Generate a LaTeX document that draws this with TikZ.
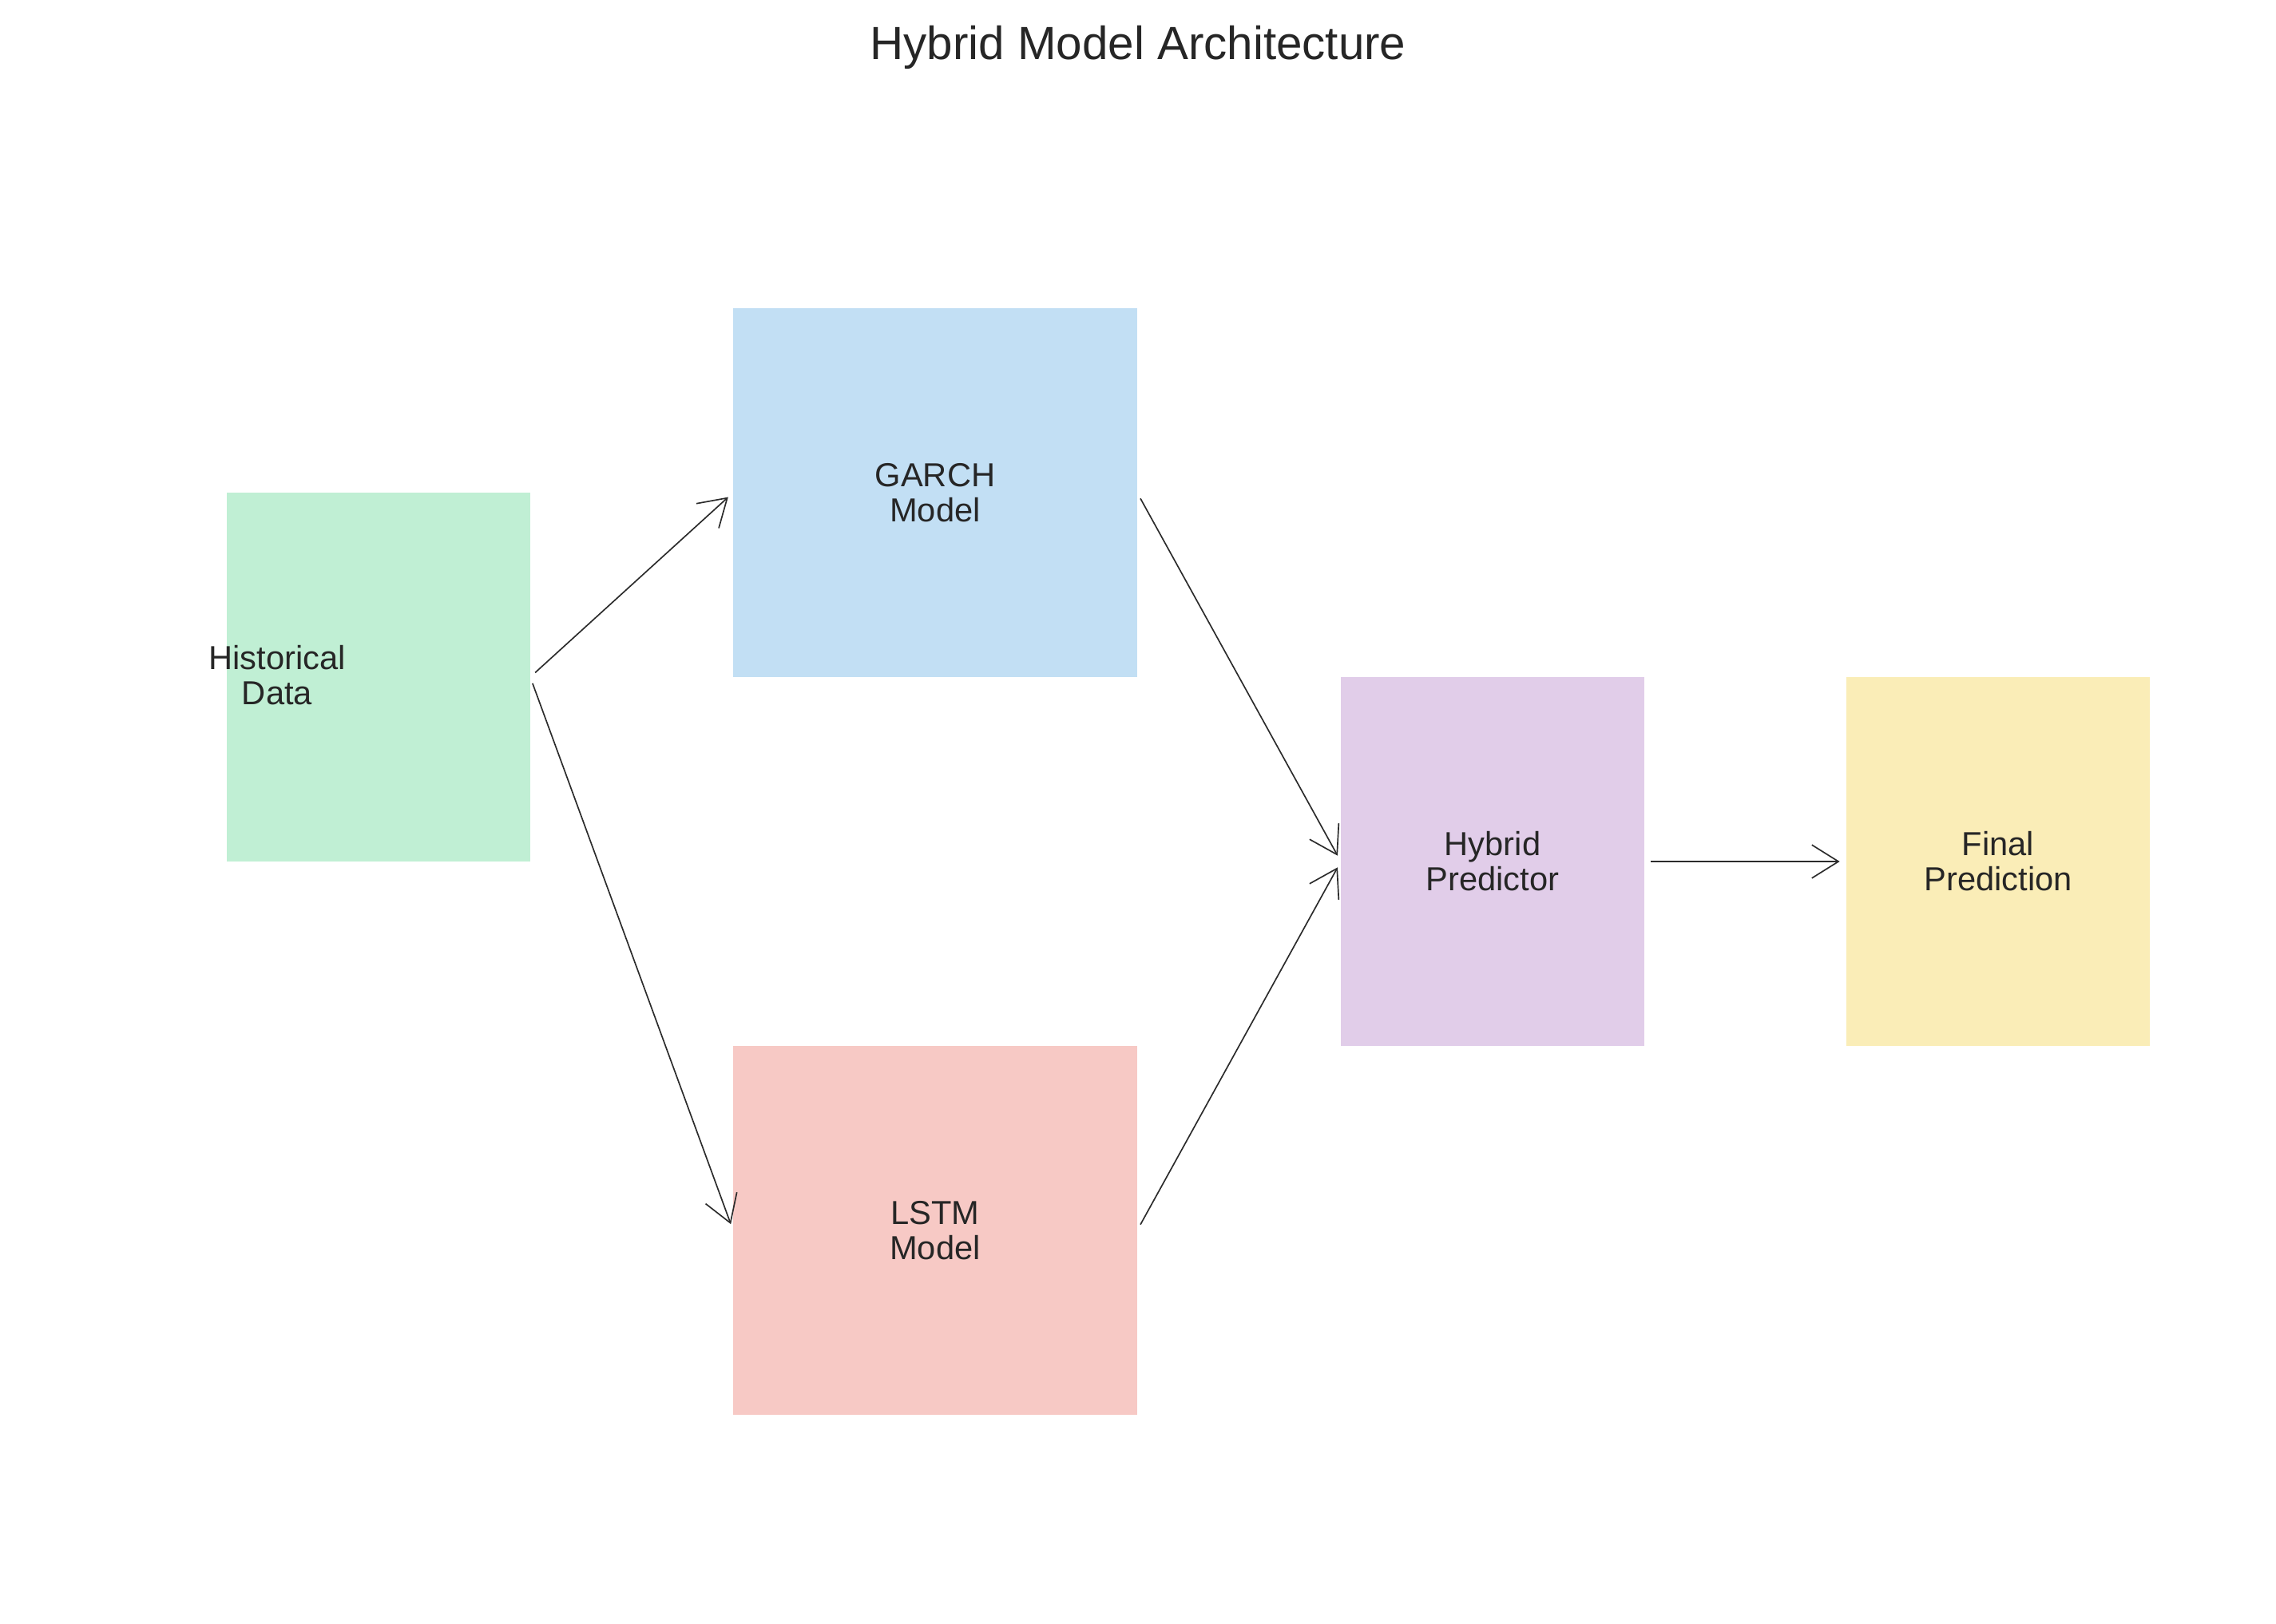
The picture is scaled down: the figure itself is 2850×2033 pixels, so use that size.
\documentclass[tikz,border=0pt]{standalone}
\usepackage{fontspec}
\setmainfont{Liberation Sans}
\usetikzlibrary{arrows.meta}
\definecolor{txt}{HTML}{262626}
\definecolor{cgreen}{RGB}{192,239,212}
\definecolor{cblue}{RGB}{194,223,244}
\definecolor{cred}{RGB}{247,201,197}
\definecolor{cpurple}{RGB}{225,205,233}
\definecolor{cyellow}{RGB}{250,237,183}
\definecolor{arr}{HTML}{2B2B2B}
\begin{document}
\begin{tikzpicture}[x=0.24pt,y=-0.24pt,
 box/.style={draw=none, inner sep=0pt, outer sep=0pt, minimum height=110.88pt, text=txt, align=center, font=\fontsize{10}{10.6}\selectfont},
 narrow/.style={box, minimum width=91.2pt},
 wide/.style={box, minimum width=121.44pt},
 lbl/.style={text=txt, align=center, inner sep=0pt, font=\fontsize{10}{10.6}\selectfont},
 flow/.style={draw=arr, line width=0.4pt, -{Straight Barb[length=8pt,width=10pt]}, shorten <=2pt, shorten >=2pt}]
\useasboundingbox (0,0) rectangle (2850,2033);
\node[anchor=base, text=txt, inner sep=0pt, font=\fontsize{14}{16.8}\selectfont] (title) at (1425,74) {Hybrid Model Architecture};
\node[narrow, fill=cgreen] (hist) at (474,848) {};
\node[lbl] (histlbl) at (347,846) {Historical\\Data};
\node[wide, fill=cblue] (garch) at (1171,617) {GARCH\\Model};
\node[wide, fill=cred] (lstm) at (1171,1541) {LSTM\\Model};
\node[narrow, fill=cpurple] (hybrid) at (1869,1079) {Hybrid\\Predictor};
\node[narrow, fill=cyellow] (final) at (2502,1079) {Final\\Prediction};
\draw[flow] (hist.east) -- (garch.west);
\draw[flow] (hist.east) -- (lstm.west);
\draw[flow] (garch.east) -- (hybrid.west);
\draw[flow] (lstm.east) -- (hybrid.west);
\draw[flow] (hybrid.east) -- (final.west);
\end{tikzpicture}
\end{document}
